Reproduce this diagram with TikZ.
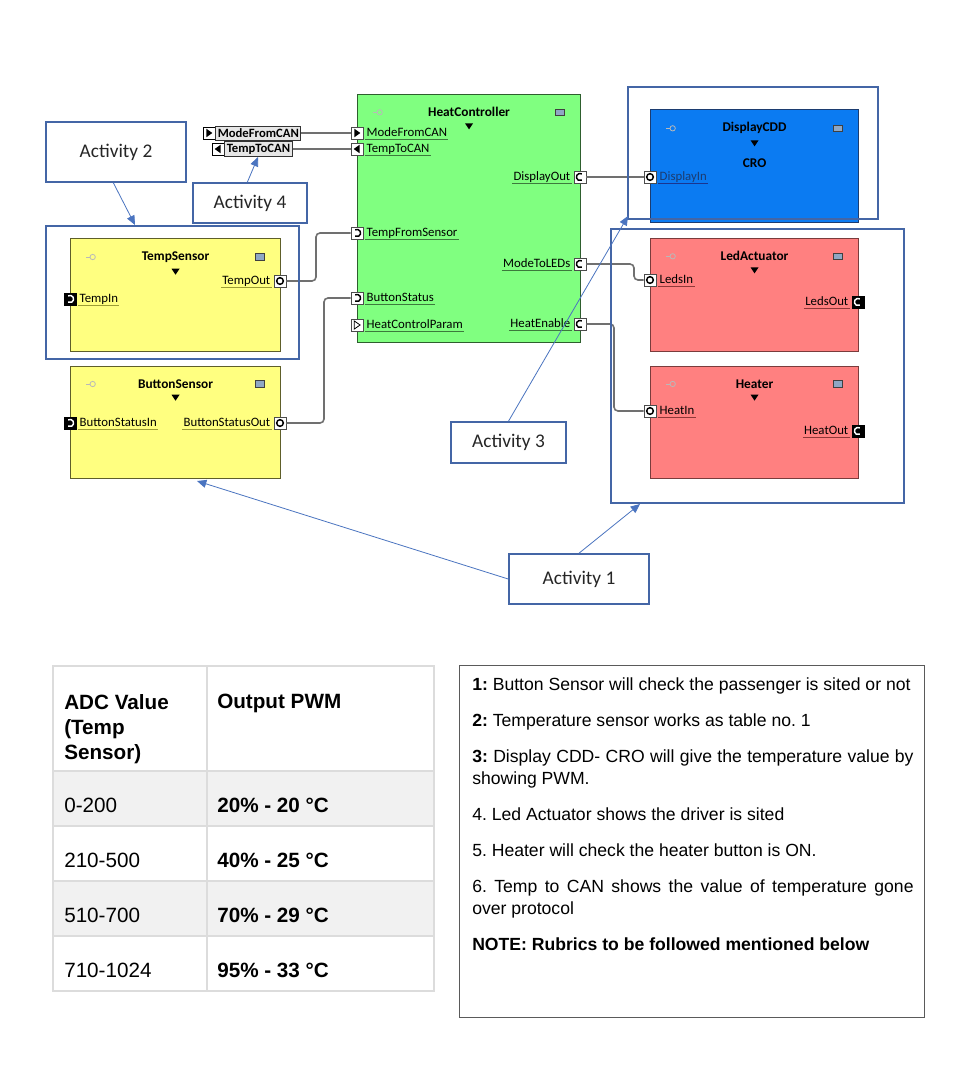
\documentclass[tikz,border=0pt]{standalone}
\usepackage{fontspec}
\setmainfont{Liberation Sans}
\newfontfamily\diafont{Carlito}
\usepackage{tikz}
\usetikzlibrary{arrows.meta, positioning, calc}
\definecolor{grpblue}{HTML}{4466A6}
\definecolor{callblue}{HTML}{4A74C0}
\definecolor{wiregray}{HTML}{707070}
\definecolor{hcfill}{HTML}{80FF80}
\definecolor{hcline}{HTML}{2E5E2E}
\definecolor{hculine}{HTML}{3C7A3C}
\definecolor{tsfill}{HTML}{FFFF80}
\definecolor{tsline}{HTML}{5E5E2A}
\definecolor{tsuline}{HTML}{9C9C34}
\definecolor{lafill}{HTML}{FF8080}
\definecolor{laline}{HTML}{7A3C3C}
\definecolor{lauline}{HTML}{8E3838}
\definecolor{dcfill}{HTML}{0B7BF2}
\definecolor{dcline}{HTML}{1C3C70}
\definecolor{dculine}{HTML}{1A3590}
\definecolor{iconfill}{HTML}{8FA7C4}
\definecolor{extfill}{HTML}{E6E6E6}
\definecolor{rowgray}{HTML}{F1F1F1}
\definecolor{tabrule}{HTML}{DCDCDC}
\definecolor{boxgray}{HTML}{5A5A5A}
\tikzset{
  swc/.style      = {draw=#1line, fill=#1fill, line width=0.8pt, rectangle, inner sep=0pt, anchor=north west},
  ctitle/.style   = {font=\diafont\fontsize{10}{12}\selectfont\bfseries, inner sep=1pt},
  iconl/.style    = {circle, draw=gray!55, line width=0.6pt, minimum size=4pt, inner sep=0pt},
  iconr/.style    = {draw=gray!50!black, fill=iconfill, line width=0.5pt, minimum width=7pt, minimum height=5pt, inner sep=0pt},
  port/.style     = {draw=gray!60!black, fill=white, line width=0.6pt, rectangle, minimum size=9pt, inner sep=0pt},
  portO/.style    = {port, path picture={\draw[black, line width=1.1pt] (path picture bounding box.center) circle (2.5pt);}},
  portC/.style    = {port, path picture={\draw[black, line width=1.1pt] ($(path picture bounding box.center)+(60:2.7pt)$) arc (60:300:2.7pt);}},
  portD/.style    = {port, path picture={\draw[black, line width=1.1pt] ($(path picture bounding box.center)+(120:2.7pt)$) arc (120:-120:2.7pt);}},
  portR/.style    = {port, path picture={\fill[black] ($(path picture bounding box.center)+(-2pt,3.2pt)$) -- ++(4.5pt,-3.2pt) -- ++(-4.5pt,-3.2pt) -- cycle;}},
  portL/.style    = {port, path picture={\fill[black] ($(path picture bounding box.center)+(2pt,3.2pt)$) -- ++(-4.5pt,-3.2pt) -- ++(4.5pt,-3.2pt) -- cycle;}},
  portRo/.style   = {port, path picture={\draw[black, line width=0.6pt] ($(path picture bounding box.center)+(-2pt,3pt)$) -- ++(4.3pt,-3pt) -- ++(-4.3pt,-3pt) -- cycle;}},
  portDk/.style   = {port, draw=black, fill=black, path picture={\draw[white, line width=1.1pt] ($(path picture bounding box.center)+(120:2.7pt)$) arc (120:-120:2.7pt);}},
  portCk/.style   = {port, draw=black, fill=black, path picture={\draw[white, line width=1.1pt] ($(path picture bounding box.center)+(60:2.7pt)$) arc (60:300:2.7pt);}},
  plabel/.style   = {font=\diafont\fontsize{9.6}{10}\selectfont, inner sep=1pt, outer sep=0pt, text height=6.8pt, text depth=1.5pt,
                     append after command={(\tikzlastnode.south west) edge[draw=#1, line width=0.8pt] (\tikzlastnode.south east)}},
  extlabel/.style = {draw=gray!40!black, fill=extfill, line width=0.6pt, font=\diafont\fontsize{9.5}{10}\selectfont\bfseries,
                     inner sep=1.5pt, minimum height=10.5pt, anchor=west},
  grp/.style      = {draw=grpblue, line width=1.2pt, rectangle, inner sep=0pt},
  actbox/.style   = {grp, fill=white, font=\diafont\fontsize{14.5}{17}\selectfont, text=black!85},
  actarrow/.style = {draw=callblue, line width=0.6pt, -{Triangle[length=7pt, width=6pt]}},
  wire/.style     = {draw=wiregray, line width=1.2pt, rounded corners=3pt},
  tabrow/.style   = {draw=tabrule, line width=0.8pt},
  tabhead/.style  = {font=\fontsize{15.5}{18.75}\selectfont\bfseries, align=left, inner sep=3pt},
  tabcell/.style  = {font=\fontsize{15.5}{18.75}\selectfont, inner sep=3pt},
  notes/.style    = {font=\fontsize{13.2}{16.5}\selectfont, text width=331pt, align=justify, inner sep=3pt,
                     execute at begin node={\frenchspacing\setlength{\parskip}{10.5pt}\hyphenpenalty=10000\exhyphenpenalty=10000}},
}
\begin{document}
\begin{tikzpicture}[x=0.75pt, y=-0.75pt]
  \fill[white] (0,0) rectangle (957,1073);
  \useasboundingbox (0,0) rectangle (957,1073);

  % software components
  \node[swc=hc, minimum width=167.25pt, minimum height=186pt]  (heatctrl)     at (357,94)  {};
  \node[swc=dc, minimum width=156pt,    minimum height=84.75pt] (displaycdd)  at (650,109) {};
  \node[swc=la, minimum width=156pt,    minimum height=84.75pt] (ledact)      at (650,238) {};
  \node[swc=la, minimum width=156pt,    minimum height=84pt]    (heater)      at (650,366) {};
  \node[swc=ts, minimum width=157.5pt,  minimum height=84.75pt] (tempsensor)  at (70,238)  {};
  \node[swc=ts, minimum width=157.5pt,  minimum height=84pt]    (buttonsensor) at (70,366) {};

  \foreach \b/\t in {heatctrl/HeatController, displaycdd/DisplayCDD, ledact/LedActuator,
                     heater/Heater, tempsensor/TempSensor, buttonsensor/ButtonSensor} {
    \node[ctitle, below=9pt of \b.north] (\b-t) {\t};
    \fill ($(\b-t.south)+(-3pt,-3.5pt)$) -- ++(6pt,0) -- ++(-3pt,-4.5pt) -- cycle;
    \node[iconl] (\b-il) at ($(\b-t -| \b.west)+(17pt,0)$) {};
    \draw[gray!55, line width=0.6pt] (\b-il.west) -- ++(-3pt,0);
    \node[iconr] (\b-ir) at ($(\b-t -| \b.east)+(-16pt,0)$) {};
  }
  \node[ctitle, below=16pt of displaycdd-t] (cro) {CRO};

  % ports of HeatController
  \node[portR]  (hc-modefromcan)      at (357,133) {};
  \node[portL]  (hc-temptocan)        at (357,149) {};
  \node[portD]  (hc-tempfromsensor)   at (357,233) {};
  \node[portD]  (hc-buttonstatus)     at (357,298) {};
  \node[portRo] (hc-heatcontrolparam) at (357,325) {};
  \node[portC]  (hc-displayout)       at (580,177) {};
  \node[portC]  (hc-modetoleds)       at (580,264) {};
  \node[portC]  (hc-heatenable)       at (580,324) {};
  \foreach \p/\t in {modefromcan/ModeFromCAN, temptocan/TempToCAN, tempfromsensor/TempFromSensor,
                     buttonstatus/ButtonStatus, heatcontrolparam/HeatControlParam}
    \node[plabel=hculine, right=1.5pt of hc-\p] (hc-\p-l) {\t};
  \foreach \p/\t in {displayout/DisplayOut, modetoleds/ModeToLEDs, heatenable/HeatEnable}
    \node[plabel=hculine, left=1.5pt of hc-\p] (hc-\p-l) {\t};

  % ports of the other components
  \node[portO]  (dc-displayin)         at (650,177) {};
  \node[portO]  (la-ledsin)            at (650,280) {};
  \node[portCk] (la-ledsout)           at (858,302) {};
  \node[portO]  (he-heatin)            at (650,411) {};
  \node[portCk] (he-heatout)           at (858,431) {};
  \node[portDk] (ts-tempin)            at (70,299)  {};
  \node[portO]  (ts-tempout)           at (280,281) {};
  \node[portDk] (bs-buttonstatusin)    at (70,423)  {};
  \node[portO]  (bs-buttonstatusout)   at (280,423) {};
  \node[plabel=dculine, text=dcline, right=1.5pt of dc-displayin] (dc-displayin-l) {DisplayIn};
  \node[plabel=lauline, right=1.5pt of la-ledsin]  (la-ledsin-l)  {LedsIn};
  \node[plabel=lauline, left=1.5pt of la-ledsout]  (la-ledsout-l) {LedsOut};
  \node[plabel=lauline, right=1.5pt of he-heatin]  (he-heatin-l)  {HeatIn};
  \node[plabel=lauline, left=1.5pt of he-heatout]  (he-heatout-l) {HeatOut};
  \node[plabel=tsuline, right=1.5pt of ts-tempin]  (ts-tempin-l)  {TempIn};
  \node[plabel=tsuline, left=1.5pt of ts-tempout]  (ts-tempout-l) {TempOut};
  \node[plabel=tsuline, right=1.5pt of bs-buttonstatusin]  (bs-buttonstatusin-l)  {ButtonStatusIn};
  \node[plabel=tsuline, left=1.5pt of bs-buttonstatusout]  (bs-buttonstatusout-l) {ButtonStatusOut};

  % CAN ports
  \node[portR, draw=black] (ext-modefromcan) at (209,133) {};
  \node[extlabel, right=0pt of ext-modefromcan] (ext-modefromcan-l) {ModeFromCAN};
  \node[portL, draw=black] (ext-temptocan) at (218,149) {};
  \node[extlabel, right=0pt of ext-temptocan] (ext-temptocan-l) {TempToCAN};

  % connectors
  \draw[wire] (ext-modefromcan-l) -- (hc-modefromcan);
  \draw[wire] (ext-temptocan-l) -- (hc-temptocan);
  \draw[wire] (ts-tempout) -- ++(36,0) |- (hc-tempfromsensor);
  \draw[wire] (bs-buttonstatusout) -- ++(44,0) |- (hc-buttonstatus);
  \draw[wire] (hc-displayout) -- (dc-displayin);
  \draw[wire] (hc-modetoleds) -- ++(54,0) |- (la-ledsin);
  \draw[wire] (hc-heatenable) -- ++(34,0) |- (he-heatin);

  % activity groups
  \node[grp, minimum width=189.75pt, minimum height=99.75pt] (grp-ts)  at (172.5,292.5) {};
  \node[grp, minimum width=187.5pt,  minimum height=99pt]    (grp-dc)  at (753,153)     {};
  \node[grp, minimum width=219.75pt, minimum height=205.5pt] (grp-act) at (757.5,366)   {};

  \node[actbox, minimum width=105pt,   minimum height=45pt]    (act2) at (116,152)     {Activity 2};
  \node[actbox, minimum width=85.5pt,  minimum height=30pt]    (act4) at (250,203)     {Activity 4};
  \node[actbox, minimum width=86.25pt, minimum height=30.75pt] (act3) at (508.5,442.5) {Activity 3};
  \node[actbox, minimum width=105pt,   minimum height=37.5pt]  (act1) at (579,579)     {Activity 1};
  \coordinate (tip1a) at (197,481);
  \coordinate (tip1b) at (640,504);
  \coordinate (tip2)  at (135,225);
  \coordinate (tip3)  at (628,216);
  \coordinate (tip4)  at (258,157);
  \draw[actarrow] (act1.west) -- (tip1a);
  \draw[actarrow] (act1.north) -- (tip1b);
  \draw[actarrow] ([xshift=-2pt]act2.south) -- (tip2);
  \draw[actarrow] (act3.north) -- (tip3);
  \draw[actarrow] ([xshift=-2pt]act4.north) -- (tip4);

  % ADC table
  \foreach \i in {1,3} \fill[rowgray] (53,716+55*\i) rectangle (434,771+55*\i);
  \draw[tabrow] (53,666) rectangle (434,991);
  \draw[tabrow] (207,666) -- (207,991);
  \foreach \y in {771,826,881,936} \draw[tabrow] (53,\y) -- (434,\y);
  \node[tabhead, anchor=north west] (th-adc) at (60,690) {ADC Value\\(Temp\\Sensor)};
  \node[tabhead, anchor=north west] (th-pwm) at (213,690) {Output PWM};
  \foreach \adc/\pwm [count=\i] in {0-200/20\% - 20 °C, 210-500/40\% - 25 °C,
                                    510-700/70\% - 29 °C, 710-1024/95\% - 33 °C} {
    \node[tabcell, anchor=base west] (adc-\i) at (60,757+55*\i) {\adc};
    \node[tabcell, anchor=base west, font=\fontsize{15.5}{18.75}\selectfont\bfseries] (pwm-\i) at (213,757+55*\i) {\pwm};
  }

  % notes
  \node[draw=boxgray, line width=1pt, minimum width=348.75pt, minimum height=264pt, anchor=north west, inner sep=0pt] (notebox) at (459,665) {};
  \node[notes, anchor=north west] (notes) at (468,673)
    {\textbf{1:} Button Sensor will check the passenger is sited or not\par
     \textbf{2:} Temperature sensor works as table no. 1\par
     \textbf{3:} Display CDD- CRO will give the temperature value by showing PWM.\par
     4. Led Actuator shows the driver is sited\par
     5. Heater will check the heater button is ON.\par
     6. Temp to CAN shows the value of temperature gone over protocol\par
     \textbf{NOTE: Rubrics to be followed mentioned below}};
\end{tikzpicture}
\end{document}
